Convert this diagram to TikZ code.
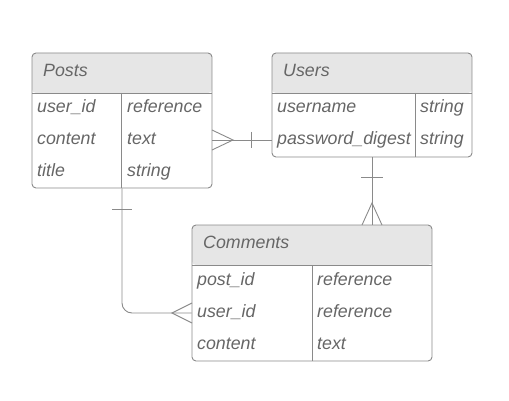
\documentclass[tikz,border=0pt]{standalone}
\usepackage{fontspec}
\setmainfont{Liberation Sans}
\definecolor{linegray}{HTML}{8A8A8A}
\definecolor{txtgray}{HTML}{666666}
\definecolor{headfill}{HTML}{E6E6E6}
\begin{document}
\begin{tikzpicture}[x=1pt,y=-1pt,
  tablebox/.style={draw=linegray, line width=0.9pt, rounded corners=4pt, fill=white, inner sep=0pt,
    path picture={\fill[headfill] (path picture bounding box.north west) rectangle ([yshift=-40pt]path picture bounding box.north east);}},
  tx/.style={anchor=base west, inner sep=0pt, text=txtgray, font=\fontsize{17.8}{20}\selectfont\itshape},
  conn/.style={draw=linegray, line width=0.9pt},
  sep/.style={draw=linegray, line width=0.9pt}]
\useasboundingbox (0,0) rectangle (509,401);
% tables
\node[tablebox, minimum width=180pt, minimum height=135pt] (posts) at (122,120.5) {};
\node[tablebox, minimum width=200pt, minimum height=104pt] (users) at (372,105) {};
\node[tablebox, minimum width=240pt, minimum height=136pt] (comments) at (312,293) {};
% separators
\draw[sep] (32,93) -- (212,93) (121,93) -- (121,188);
\draw[sep] (272,93) -- (472,93) (415,93) -- (415,157);
\draw[sep] (192,265) -- (432,265) (312,265) -- (312,361);
% Posts texts
\node[tx] (ph) at (43,77) {Posts};
\node[tx] (p1a) at (37,113) {user\_id};
\node[tx] (p1b) at (127,113) {reference};
\node[tx] (p2a) at (37,145) {content};
\node[tx] (p2b) at (127,145) {text};
\node[tx] (p3a) at (37,177) {title};
\node[tx] (p3b) at (127,177) {string};
% Users texts
\node[tx] (uh) at (283,77) {Users};
\node[tx] (u1a) at (277,113) {username};
\node[tx] (u1b) at (420,113) {string};
\node[tx] (u2a) at (277,145) {password\_digest};
\node[tx] (u2b) at (420,145) {string};
% Comments texts
\node[tx] (ch) at (203,248) {Comments};
\node[tx] (c1a) at (197,285) {post\_id};
\node[tx] (c1b) at (317,285) {reference};
\node[tx] (c2a) at (197,317) {user\_id};
\node[tx] (c2b) at (317,317) {reference};
\node[tx] (c3a) at (197,349) {content};
\node[tx] (c3b) at (317,349) {text};
% Posts -- Users
\draw[conn] ([yshift=-19.5pt]posts.east) -- ([yshift=-35pt]users.west);
\draw[conn] (212,130) -- (233,140) -- (212,150);
\draw[conn] (251,132) -- (251,148);
% Users -- Comments
\draw[conn] (users.south) -- (users.south |- comments.north);
\draw[conn] (361,177) -- (383,177);
\draw[conn] (362,225) -- (372,203) -- (382,225);
% Posts -- Comments
\draw[conn, rounded corners=10pt] (posts.south) |- ([yshift=-20pt]comments.west);
\draw[conn] (112,209) -- (132,209);
\draw[conn] (192,303) -- (172,313) -- (192,323);
\end{tikzpicture}
\end{document}
